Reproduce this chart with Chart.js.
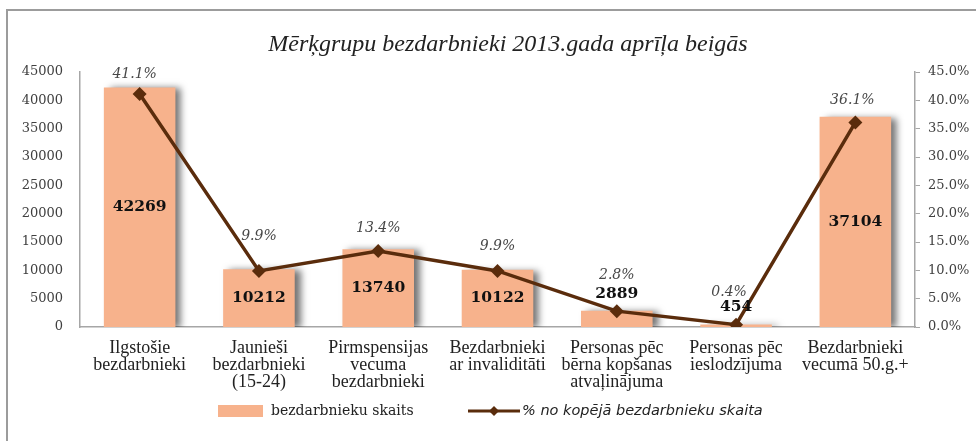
<!DOCTYPE html>
<html>
<head>
<meta charset="utf-8">
<script src="https://cdn.jsdelivr.net/npm/chart.js@4/dist/chart.umd.min.js"></script>
<style>
  html, body { margin: 0; padding: 0; background: #fff; }
  #wrap { position: relative; width: 976px; height: 441px; overflow: hidden; }
  #frame { position: absolute; left: 6px; top: 9px; right: -4px; bottom: -4px;
           border-top: 2px solid #9c9c9c; border-left: 2px solid #9c9c9c; }
  canvas { position: absolute; left: 0; top: 0; }
</style>
</head>
<body>
<div id="wrap">
  <div id="frame"></div>
  <canvas id="chart" width="976" height="441"></canvas>
</div>
<script>
// categories (multi-line labels as in the original)
const categories = [
  ["Ilgstošie", "bezdarbnieki"],
  ["Jaunieši", "bezdarbnieki", "(15-24)"],
  ["Pirmspensijas", "vecuma", "bezdarbnieki"],
  ["Bezdarbnieki", "ar invaliditāti"],
  ["Personas pēc", "bērna kopšanas", "atvaļinājuma"],
  ["Personas pēc", "ieslodzījuma"],
  ["Bezdarbnieki", "vecumā 50.g.+"]
];
const unemployedCount = [42269, 10212, 13740, 10122, 2889, 454, 37104];
const shareOfTotal = [41.1, 9.9, 13.4, 9.9, 2.8, 0.4, 36.1];

const countSeriesName = "bezdarbnieku skaits";
const shareSeriesName = "% no kopējā bezdarbnieku skaita";
const chartTitle = "Mērķgrupu bezdarbnieki 2013.gada aprīļa beigās";

const barColor = "#f7b28c";
const lineColor = "#5a2c0c";

// how far above each point its % label sits (hand placed in the source chart)
const pctLift = [20, 35, 23, 25, 36, 32, 22];
const pctShift = [-5, 0, 0, 0, 0, -7, -3];

const barShadow = {
  id: "barShadow",
  beforeDatasetDraw(chart, args) {
    if (args.index !== 0) return;
    const ctx = chart.ctx;
    ctx.save();
    ctx.shadowColor = "rgba(0,0,0,0.55)";
    ctx.shadowBlur = 7;
    ctx.shadowOffsetX = 6;
    ctx.shadowOffsetY = 1;
  },
  afterDatasetDraw(chart, args) {
    if (args.index !== 0) return;
    chart.ctx.restore();
  }
};

// title is drawn by hand: in the source it sits right of the canvas centre
const titleText = {
  id: "titleText",
  afterDraw(chart) {
    const ctx = chart.ctx;
    ctx.save();
    ctx.font = "italic 24px 'Liberation Serif'";
    ctx.fillStyle = "#222";
    ctx.textAlign = "center";
    ctx.textBaseline = "middle";
    ctx.fillText(chartTitle, 508, 45);
    ctx.restore();
  }
};

const valueLabels = {
  id: "valueLabels",
  afterDatasetsDraw(chart) {
    const ctx = chart.ctx;
    ctx.save();
    ctx.textAlign = "center";
    ctx.textBaseline = "middle";

    // bar values
    ctx.font = "bold 15.5px 'DejaVu Serif'";
    ctx.fillStyle = "#111";
    chart.getDatasetMeta(0).data.forEach((bar, i) => {
      const h = bar.base - bar.y;
      const y = h < 30 ? bar.y - 17 : bar.y + h / 2;
      ctx.fillText(String(unemployedCount[i]), bar.x, y);
    });

    // percentages
    ctx.font = "italic 14px 'DejaVu Serif'";
    ctx.fillStyle = "#474747";
    chart.getDatasetMeta(1).data.forEach((pt, i) => {
      ctx.fillText(shareOfTotal[i].toFixed(1) + "%", pt.x + pctShift[i], pt.y - pctLift[i]);
    });
    ctx.restore();
  }
};

const customLegend = {
  id: "customLegend",
  afterDraw(chart) {
    const ctx = chart.ctx;
    const y = 411;
    ctx.save();
    ctx.fillStyle = barColor;
    ctx.fillRect(218, y - 6, 45, 12);
    ctx.fillStyle = "#222";
    ctx.textBaseline = "middle";
    ctx.textAlign = "left";
    ctx.font = "14px 'DejaVu Serif'";
    ctx.fillText(countSeriesName, 271, y);

    ctx.strokeStyle = lineColor;
    ctx.lineWidth = 3;
    ctx.beginPath();
    ctx.moveTo(468, y);
    ctx.lineTo(520, y);
    ctx.stroke();
    ctx.fillStyle = lineColor;
    ctx.beginPath();
    ctx.moveTo(494, y - 5);
    ctx.lineTo(499, y);
    ctx.lineTo(494, y + 5);
    ctx.lineTo(489, y);
    ctx.closePath();
    ctx.fill();

    ctx.fillStyle = "#222";
    ctx.font = "italic 14.5px 'DejaVu Sans'";
    ctx.fillText(shareSeriesName, 522, y);
    ctx.restore();
  }
};

new Chart(document.getElementById("chart"), {
  data: {
    labels: categories,
    datasets: [
      {
        type: "bar",
        label: countSeriesName,
        data: unemployedCount,
        backgroundColor: barColor,
        borderWidth: 0,
        categoryPercentage: 1,
        barPercentage: 0.6,
        yAxisID: "y",
        order: 2
      },
      {
        type: "line",
        label: shareSeriesName,
        data: shareOfTotal,
        borderColor: lineColor,
        backgroundColor: lineColor,
        borderWidth: 3.5,
        pointStyle: "rectRot",
        pointRadius: 7,
        pointBorderWidth: 0,
        tension: 0,
        yAxisID: "y1",
        order: 1
      }
    ]
  },
  options: {
    responsive: false,
    animation: false,
    layout: { padding: { top: 72, left: 0, right: 0, bottom: 0 } },
    plugins: {
      legend: { display: false },
      tooltip: { enabled: false },
      title: { display: false }
    },
    scales: {
      x: {
        grid: { display: false, drawTicks: false },
        border: { display: true, color: "#a6a6a6", width: 1.5 },
        ticks: {
          color: "#222",
          autoSkip: false,
          maxRotation: 0,
          padding: 13,
          font: { family: "'Liberation Serif'", size: 18, lineHeight: 0.95 }
        },
        afterFit(scale) { scale.height = 114; }
      },
      y: {
        position: "left",
        min: 0,
        max: 45000,
        grid: { display: false, drawTicks: false },
        border: { display: true, color: "#a6a6a6", width: 1.5 },
        ticks: {
          stepSize: 5000,
          color: "#404040",
          padding: 17,
          font: { family: "'DejaVu Serif'", size: 13 },
          callback: (v) => String(v)
        },
        afterFit(scale) { scale.width = 80; }
      },
      y1: {
        position: "right",
        min: 0,
        max: 45,
        grid: { drawOnChartArea: false, tickLength: 5, color: "#a6a6a6" },
        border: { display: true, color: "#a6a6a6", width: 1.5 },
        ticks: {
          stepSize: 5,
          color: "#404040",
          padding: 8,
          font: { family: "'DejaVu Serif'", size: 13 },
          callback: (v) => v.toFixed(1) + "%"
        },
        afterFit(scale) { scale.width = 61; }
      }
    }
  },
  plugins: [barShadow, valueLabels, customLegend, titleText]
});
</script>
</body>
</html>
